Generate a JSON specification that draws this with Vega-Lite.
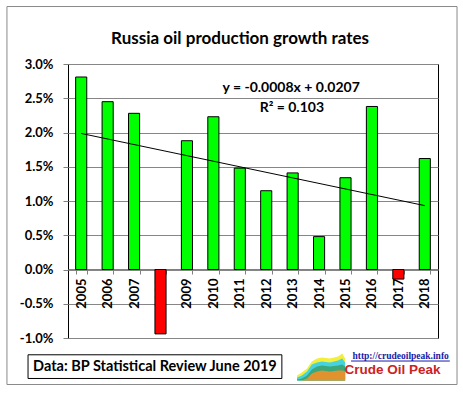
{
  "$schema": "https://vega.github.io/schema/vega-lite/v6.json",
  "width": 370,
  "height": 274,
  "autosize": {"type": "none"},
  "padding": {"left": 68, "top": 64, "right": 25, "bottom": 55},
  "background": "white",
  "config": {"view": {"stroke": "#000000", "strokeWidth": 1}, "font": "Lato"},
  "datasets": {
    "growth": [
      {"year": 2005, "pct": 0.0281},
      {"year": 2006, "pct": 0.0245},
      {"year": 2007, "pct": 0.0228},
      {"year": 2008, "pct": -0.0094},
      {"year": 2009, "pct": 0.0188},
      {"year": 2010, "pct": 0.0223},
      {"year": 2011, "pct": 0.0148},
      {"year": 2012, "pct": 0.0115},
      {"year": 2013, "pct": 0.0141},
      {"year": 2014, "pct": 0.0048},
      {"year": 2015, "pct": 0.0134},
      {"year": 2016, "pct": 0.0238},
      {"year": 2017, "pct": -0.0014},
      {"year": 2018, "pct": 0.0162}
    ],
    "logo": [
      {"ax": 0.619, "yel": -0.01547, "cya": -0.01577, "grn": -0.01606, "ora": -0.0162},
      {"ax": 0.632, "yel": -0.01504, "cya": -0.01547, "grn": -0.01591, "ora": -0.0162},
      {"ax": 0.646, "yel": -0.01445, "cya": -0.01489, "grn": -0.01547, "ora": -0.01591},
      {"ax": 0.659, "yel": -0.01343, "cya": -0.01387, "grn": -0.0146, "ora": -0.01518},
      {"ax": 0.673, "yel": -0.01299, "cya": -0.01358, "grn": -0.01416, "ora": -0.01489},
      {"ax": 0.686, "yel": -0.01285, "cya": -0.01343, "grn": -0.01401, "ora": -0.01474},
      {"ax": 0.708, "yel": -0.01299, "cya": -0.01358, "grn": -0.01416, "ora": -0.01489},
      {"ax": 0.73, "yel": -0.0127, "cya": -0.01328, "grn": -0.01401, "ora": -0.01474},
      {"ax": 0.741, "yel": -0.01226, "cya": -0.01299, "grn": -0.01387, "ora": -0.01474},
      {"ax": 0.749, "yel": -0.01299, "cya": -0.01358, "grn": -0.01416, "ora": -0.01489}
    ]
  },
  "layer": [
    {
      "encoding": {
        "x": {
          "field": "year",
          "type": "ordinal",
          "scale": {"paddingInner": 0.58, "paddingOuter": 0.29},
          "axis": {
            "title": null,
            "labelAngle": -90,
            "labelAlign": "right",
            "labelBaseline": "middle",
            "labelFont": "Lato",
            "labelFontWeight": "bold",
            "labelFontSize": 13,
            "labelColor": "#000000",
            "labelPadding": 4,
            "tickBand": "extent",
            "tickSize": 5,
            "tickColor": "#808080",
            "domainColor": "#808080",
            "offset": -69,
            "grid": false
          }
        },
        "y": {
          "field": "pct",
          "type": "quantitative",
          "scale": {"domain": [-0.01, 0.03], "nice": false},
          "axis": {
            "title": null,
            "values": [-0.01, -0.005, 0, 0.005, 0.01, 0.015, 0.02, 0.025, 0.03],
            "format": ".1%",
            "labelExpr": "replace(datum.label, '\u2212', '-')",
            "labelOverlap": false,
            "labelFont": "Lato",
            "labelFontWeight": "bold",
            "labelFontSize": 13,
            "labelColor": "#000000",
            "labelPadding": 10,
            "tickSize": 5,
            "tickColor": "#808080",
            "domain": false,
            "grid": true,
            "gridColor": "#868686",
            "gridWidth": 1
          }
        }
      },
      "layer": [
        {
          "data": {"name": "growth"},
          "mark": {"type": "bar", "stroke": "#000000", "strokeWidth": 1},
          "encoding": {
            "fill": {"condition": {"test": "datum.pct < 0", "value": "#ff0000"}, "value": "#00ff00"}
          }
        },
        {
          "data": {"name": "growth"},
          "transform": [{"regression": "pct", "on": "year"}],
          "mark": {"type": "line", "color": "#000000", "strokeWidth": 1},
          "encoding": {}
        }
      ]
    },
    {
      "encoding": {
        "x": {"field": "ax", "type": "quantitative", "scale": {"domain": [0, 1], "nice": false, "zero": false}, "axis": null},
        "y": {"field": "ay", "type": "quantitative", "scale": {"domain": [-0.01, 0.03], "nice": false, "zero": false}, "axis": null}
      },
      "layer": [
        {
          "data": {"values": [{"ax": -0.165, "ax2": 1.0514, "ay": 0.03839, "ay2": -0.01679}]},
          "mark": {"type": "rect", "filled": false, "stroke": "#8a8a8a", "strokeWidth": 1},
          "encoding": {"x2": {"field": "ax2"}, "y2": {"field": "ay2"}}
        },
        {
          "data": {"values": [{"ax": -0.108, "ax2": 0.578, "ay": -0.01245, "ay2": -0.01591}]},
          "mark": {"type": "rect", "filled": false, "stroke": "#000000", "strokeWidth": 1},
          "encoding": {"x2": {"field": "ax2"}, "y2": {"field": "ay2"}}
        },
        {
          "data": {"values": [{"ax": 0.465, "ay": 0.03299, "label": "Russia oil production growth rates"}]},
          "mark": {"type": "text", "font": "Lato", "fontWeight": "bold", "fontSize": 17, "baseline": "alphabetic", "align": "center", "color": "#000000"},
          "encoding": {"text": {"field": "label"}}
        },
        {
          "data": {"values": [
            {"ax": 0.603, "ay": 0.02596, "label": "y = -0.0008x + 0.0207"},
            {"ax": 0.605, "ay": 0.02299, "label": "R² = 0.103"}
          ]},
          "mark": {"type": "text", "font": "Lato", "fontWeight": "bold", "fontSize": 14, "baseline": "alphabetic", "align": "center", "color": "#000000"},
          "encoding": {"text": {"field": "label"}}
        },
        {
          "data": {"values": [{"ax": 0.235, "ay": -0.01489, "label": "Data: BP Statistical Review June 2019"}]},
          "mark": {"type": "text", "font": "Lato", "fontWeight": "bold", "fontSize": 14.5, "baseline": "alphabetic", "align": "center", "color": "#000000"},
          "encoding": {"text": {"field": "label"}}
        },
        {
          "data": {"name": "logo"},
          "mark": {"type": "area", "color": "#f2ee3a"},
          "encoding": {"y": {"field": "yel", "type": "quantitative"}, "y2": {"datum": -0.0162}}
        },
        {
          "data": {"name": "logo"},
          "mark": {"type": "area", "color": "#45d3e0"},
          "encoding": {"y": {"field": "cya", "type": "quantitative"}, "y2": {"datum": -0.0162}}
        },
        {
          "data": {"name": "logo"},
          "mark": {"type": "area", "color": "#3aa87a"},
          "encoding": {"y": {"field": "grn", "type": "quantitative"}, "y2": {"datum": -0.0162}}
        },
        {
          "data": {"name": "logo"},
          "mark": {"type": "area", "color": "#e0922e"},
          "encoding": {"y": {"field": "ora", "type": "quantitative"}, "y2": {"datum": -0.0162}}
        },
        {
          "data": {"values": [{"ax": 0.899, "ay": -0.01307, "label": "http://crudeoilpeak.info"}]},
          "mark": {"type": "text", "font": "Liberation Serif", "fontWeight": "bold", "fontSize": 9.5, "baseline": "alphabetic", "align": "center", "color": "#1a1aa8"},
          "encoding": {"text": {"field": "label"}}
        },
        {
          "data": {"values": [{"ax": 0.765, "ax2": 1.032, "ay": -0.01336}]},
          "mark": {"type": "rule", "color": "#1a1aa8", "strokeWidth": 1},
          "encoding": {"x2": {"field": "ax2"}}
        },
        {
          "data": {"values": [{"ax": 0.877, "ay": -0.01526, "label": "Crude Oil Peak"}]},
          "mark": {"type": "text", "font": "Liberation Sans", "fontWeight": "bold", "fontSize": 13.5, "baseline": "alphabetic", "align": "center", "color": "#cc2222"},
          "encoding": {"text": {"field": "label"}}
        }
      ]
    }
  ],
  "resolve": {"scale": {"x": "independent", "y": "independent"}}
}
